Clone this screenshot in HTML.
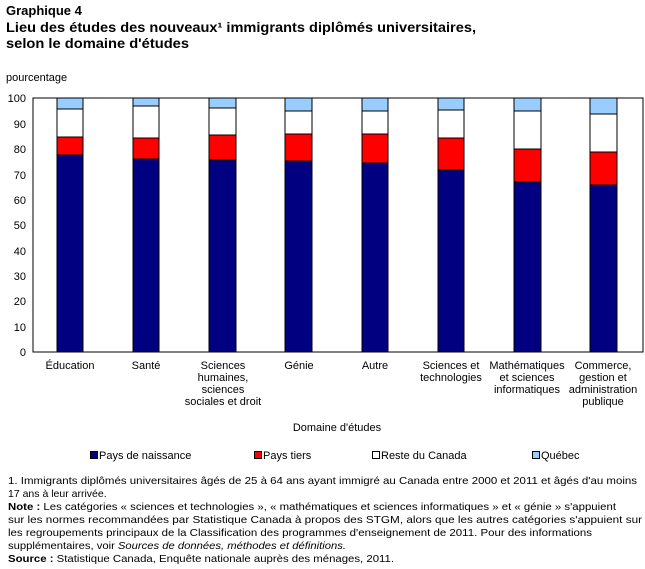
<!DOCTYPE html>
<html><head><meta charset="utf-8"><style>
body{margin:0;background:#fff}
svg{display:block;font-family:"Liberation Sans",Arial,sans-serif}
</style></head><body>
<svg width="645" height="569" viewBox="0 0 645 569" xmlns="http://www.w3.org/2000/svg">
<text x="6" y="15" font-size="13" font-weight="bold">Graphique 4</text>
<text x="6" y="32" font-size="13.5" font-weight="bold" textLength="470" lengthAdjust="spacingAndGlyphs">Lieu des études des nouveaux¹ immigrants diplômés universitaires,</text>
<text x="6" y="48" font-size="13.5" font-weight="bold" textLength="183" lengthAdjust="spacingAndGlyphs">selon le domaine d'études</text>
<text x="6" y="81" font-size="11">pourcentage</text>
<g font-size="11" text-anchor="end">
<text x="26" y="102">100</text><text x="26" y="128">90</text><text x="26" y="153">80</text><text x="26" y="179">70</text><text x="26" y="204">60</text><text x="26" y="229">50</text><text x="26" y="255">40</text><text x="26" y="280">30</text><text x="26" y="305">20</text><text x="26" y="331">10</text><text x="26" y="356">0</text>
</g>
<g stroke="#000" stroke-width="1">
<rect x="57" y="155" width="26" height="197" fill="#000080"/><rect x="57" y="137" width="26" height="18" fill="#f00"/><rect x="57" y="109" width="26" height="28" fill="#fff"/><rect x="57" y="98" width="26" height="11" fill="#99ccff"/>
<rect x="133" y="159" width="26" height="193" fill="#000080"/><rect x="133" y="138" width="26" height="21" fill="#f00"/><rect x="133" y="106" width="26" height="32" fill="#fff"/><rect x="133" y="98" width="26" height="8" fill="#99ccff"/>
<rect x="209" y="160" width="27" height="192" fill="#000080"/><rect x="209" y="135" width="27" height="25" fill="#f00"/><rect x="209" y="108" width="27" height="27" fill="#fff"/><rect x="209" y="98" width="27" height="10" fill="#99ccff"/>
<rect x="285" y="161" width="27" height="191" fill="#000080"/><rect x="285" y="134" width="27" height="27" fill="#f00"/><rect x="285" y="111" width="27" height="23" fill="#fff"/><rect x="285" y="98" width="27" height="13" fill="#99ccff"/>
<rect x="362" y="163" width="26" height="189" fill="#000080"/><rect x="362" y="134" width="26" height="29" fill="#f00"/><rect x="362" y="111" width="26" height="23" fill="#fff"/><rect x="362" y="98" width="26" height="13" fill="#99ccff"/>
<rect x="438" y="170" width="26" height="182" fill="#000080"/><rect x="438" y="138" width="26" height="32" fill="#f00"/><rect x="438" y="110" width="26" height="28" fill="#fff"/><rect x="438" y="98" width="26" height="12" fill="#99ccff"/>
<rect x="514" y="182" width="27" height="170" fill="#000080"/><rect x="514" y="149" width="27" height="33" fill="#f00"/><rect x="514" y="111" width="27" height="38" fill="#fff"/><rect x="514" y="98" width="27" height="13" fill="#99ccff"/>
<rect x="590" y="185" width="27" height="167" fill="#000080"/><rect x="590" y="152" width="27" height="33" fill="#f00"/><rect x="590" y="114" width="27" height="38" fill="#fff"/><rect x="590" y="98" width="27" height="16" fill="#99ccff"/>
<rect x="33" y="98" width="610" height="254" fill="none"/>
</g>
<g font-size="11" text-anchor="middle">
<text x="70" y="369">Éducation</text>
<text x="146" y="369">Santé</text>
<text x="223" y="369">Sciences</text><text x="223" y="381">humaines,</text><text x="223" y="393">sciences</text><text x="223" y="405">sociales et droit</text>
<text x="299" y="369">Génie</text>
<text x="375" y="369">Autre</text>
<text x="451" y="369">Sciences et</text><text x="451" y="381">technologies</text>
<text x="527" y="369">Mathématiques</text><text x="527" y="381">et sciences</text><text x="527" y="393">informatiques</text>
<text x="603" y="369">Commerce,</text><text x="603" y="381">gestion et</text><text x="603" y="393">administration</text><text x="603" y="405">publique</text>
<text x="337" y="431">Domaine d'études</text>
</g>
<g font-size="11" stroke-width="1">
<rect x="90.5" y="451.5" width="7" height="7" fill="#000080" stroke="#000"/><text x="99" y="459">Pays de naissance</text>
<rect x="254.5" y="451.5" width="7" height="7" fill="#f00" stroke="#000"/><text x="263" y="459">Pays tiers</text>
<rect x="372.5" y="451.5" width="7" height="7" fill="#fff" stroke="#000"/><text x="381" y="459">Reste du Canada</text>
<rect x="532.5" y="451.5" width="7" height="7" fill="#99ccff" stroke="#000"/><text x="541" y="459">Québec</text>
</g>
<g font-size="10.5">
<text x="8" y="484" textLength="629" lengthAdjust="spacingAndGlyphs">1. Immigrants diplômés universitaires âgés de 25 à 64 ans ayant immigré au Canada entre 2000 et 2011 et âgés d'au moins</text>
<text x="8" y="497">17 ans à leur arrivée.</text>
<text x="8" y="510" textLength="608" lengthAdjust="spacingAndGlyphs"><tspan font-weight="bold">Note :</tspan> Les catégories « sciences et technologies », « mathématiques et sciences informatiques » et « génie » s'appuient</text>
<text x="8" y="523" textLength="634" lengthAdjust="spacingAndGlyphs">sur les normes recommandées par Statistique Canada à propos des STGM, alors que les autres catégories s'appuient sur</text>
<text x="8" y="536" textLength="584" lengthAdjust="spacingAndGlyphs">les regroupements principaux de la Classification des programmes d'enseignement de 2011.  Pour des informations</text>
<text x="8" y="549" textLength="338" lengthAdjust="spacingAndGlyphs">supplémentaires, voir <tspan font-style="italic">Sources de données,  méthodes  et définitions.</tspan></text>
<text x="8" y="562" textLength="386" lengthAdjust="spacingAndGlyphs"><tspan font-weight="bold">Source :</tspan> Statistique Canada, Enquête nationale auprès des ménages, 2011.</text>
</g>
</svg>
</body></html>
